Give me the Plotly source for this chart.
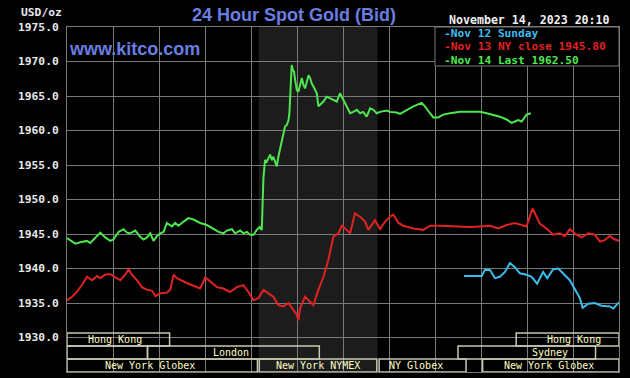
import plotly.graph_objects as go

# ---------------- data (hours of day, NY time; price USD/oz) ----------------
green_h = [0, 0.14, 0.36, 0.58, 0.87, 1.01, 1.16, 1.45, 1.66, 1.88,
           2.02, 2.24, 2.46, 2.61, 2.75, 2.97, 3.18, 3.33, 3.48, 3.62,
           3.76, 3.91, 4.05, 4.2, 4.34, 4.56, 4.70, 4.85, 5.07, 5.28,
           5.50, 5.65, 5.79, 6.08, 6.37, 6.59, 6.80, 6.95, 7.17, 7.31,
           7.53, 7.67, 7.82, 7.96, 8.11, 8.25, 8.38, 8.47, 8.51, 8.54,
           8.61, 8.69, 8.83, 8.91, 8.97, 9.05, 9.12, 9.19, 9.27, 9.34,
           9.41, 9.48, 9.56, 9.63, 9.67, 9.73, 9.77, 9.82, 9.87, 9.92,
           9.99, 10.06, 10.13, 10.21, 10.28, 10.35, 10.43, 10.50, 10.57, 10.64,
           10.71, 10.86, 10.93, 11.0, 11.15, 11.29, 11.44, 11.58, 11.73, 11.87,
           12.02, 12.16, 12.31, 12.45, 12.60, 12.74, 12.88, 13.03, 13.18, 13.32,
           13.47, 13.61, 13.90, 14.04, 14.33, 14.48, 14.77, 15.06, 15.42, 15.56,
           15.78, 15.93, 16.14, 16.36, 16.65, 17.09, 17.52, 17.95, 18.25, 18.53,
           18.82, 19.11, 19.33, 19.47, 19.62, 19.77, 19.98, 20.17]
green_v = [1944.4, 1944.1, 1943.6, 1943.8, 1944.0, 1943.7, 1944.2, 1945.2, 1944.5, 1944.0,
           1944.2, 1945.3, 1945.7, 1945.2, 1945.1, 1945.5, 1944.6, 1944.2, 1944.5, 1945.1,
           1944.0, 1944.7, 1945.1, 1945.3, 1946.6, 1946.1, 1946.6, 1946.2, 1946.8, 1947.3,
           1947.1, 1946.8, 1946.6, 1946.3, 1945.8, 1945.3, 1945.1, 1945.5, 1945.7, 1945.1,
           1945.5, 1945.1, 1945.3, 1944.9, 1944.9, 1945.6, 1946.0, 1945.6, 1949.9, 1953.1,
           1955.7, 1955.5, 1956.5, 1955.7, 1956.2, 1955.3, 1954.8, 1956.2, 1957.4, 1958.6,
           1959.4, 1960.6, 1960.8, 1961.5, 1962.5, 1966.4, 1969.5, 1968.8, 1968.5, 1967.3,
           1965.9, 1965.6, 1966.4, 1967.6, 1966.6, 1966.1, 1967.1, 1968.0, 1967.6, 1966.8,
           1966.4, 1965.4, 1963.5, 1963.7, 1964.2, 1964.9, 1964.7, 1964.4, 1964.2, 1965.4,
           1964.4, 1963.7, 1962.5, 1962.7, 1963.0, 1962.5, 1962.7, 1962.0, 1963.2, 1963.0,
           1962.5, 1962.7, 1962.9, 1962.7, 1962.6, 1962.4, 1963.0, 1963.5, 1964.0, 1963.5,
           1962.5, 1961.9, 1961.9, 1962.3, 1962.5, 1962.7, 1962.7, 1962.7, 1962.5, 1962.3,
           1962.0, 1961.6, 1961.1, 1961.3, 1961.5, 1961.3, 1962.3, 1962.5]

red_h = [0, 0.22, 0.43, 0.65, 0.87, 1.09, 1.30, 1.45, 1.66, 1.88,
         2.10, 2.32, 2.53, 2.68, 2.82, 3.04, 3.26, 3.48, 3.69, 3.84,
         4.05, 4.34, 4.49, 4.63, 4.78, 5.0, 5.21, 5.50, 5.79, 6.01,
         6.23, 6.52, 6.80, 7.09, 7.38, 7.67, 7.89, 8.11, 8.32,
         8.54, 8.76, 8.97, 9.19, 9.41, 9.63, 9.84, 9.99, 10.06, 10.13, 10.35,
         10.57, 10.71, 10.93, 11.15, 11.36, 11.58, 11.80, 11.95, 12.16, 12.31,
         12.52, 12.74, 12.96, 13.10, 13.39, 13.61, 13.83, 14.04,
         14.19, 14.41, 14.62, 15.06, 15.49, 15.78, 16.22, 16.65, 17.09, 17.52, 17.95, 18.39,
         18.75, 19.11, 19.47, 19.77, 19.98, 20.24, 20.42, 20.56, 20.85, 21.14,
         21.43, 21.65, 21.86, 22.15, 22.37, 22.66, 22.95, 23.17, 23.38, 23.60, 23.82, 24.0]
red_v = [1935.4, 1935.9, 1936.6, 1937.6, 1938.8, 1938.3, 1938.9, 1938.6, 1939.1, 1939.2,
         1938.7, 1938.3, 1939.1, 1939.9, 1939.1, 1938.3, 1937.3, 1936.9, 1936.8, 1936.0,
         1936.4, 1936.5, 1936.9, 1939.1, 1938.6, 1938.3, 1937.9, 1937.5, 1937.1, 1938.7,
         1938.1, 1937.3, 1937.1, 1936.6, 1937.3, 1937.6, 1936.6, 1935.4, 1935.7,
         1936.9, 1936.4, 1935.9, 1934.7, 1934.5, 1935.0, 1934.0, 1933.3, 1932.5, 1934.2, 1935.9,
         1935.2, 1934.7, 1936.9, 1938.8, 1941.2, 1944.6, 1945.1, 1946.2, 1945.6, 1945.1,
         1948.0, 1947.5, 1946.8, 1945.6, 1947.0, 1945.7, 1946.8, 1947.5,
         1947.8, 1946.6, 1946.2, 1945.8, 1945.6, 1946.2, 1946.2, 1946.1, 1946.0, 1946.0, 1946.1, 1946.2,
         1945.8, 1946.3, 1946.6, 1946.3, 1946.1, 1948.7, 1947.5, 1946.5, 1945.8, 1944.9,
         1945.1, 1944.7, 1945.7, 1944.9, 1944.5, 1945.1, 1944.9, 1943.9, 1944.1, 1944.7, 1944.2, 1944.0]

cyan_h = [17.26, 18.03, 18.17, 18.39, 18.61, 18.82, 19.04, 19.26, 19.47, 19.69,
          19.98, 20.20, 20.44, 20.70, 20.88, 21.14, 21.36, 21.57, 21.86, 22.15,
          22.30, 22.42, 22.66, 22.95, 23.24, 23.60, 23.75, 24.0]
cyan_v = [1938.9, 1938.9, 1939.8, 1939.8, 1938.6, 1938.8, 1939.5, 1940.8, 1940.2, 1939.3,
          1939.1, 1938.8, 1937.8, 1939.5, 1938.6, 1939.9, 1940.0, 1939.3, 1938.3, 1936.6,
          1935.7, 1934.3, 1934.9, 1935.0, 1934.6, 1934.5, 1934.2, 1935.1]

legend_labels = ["Nov 12 Sunday", "Nov 13 NY close 1945.80", "Nov 14 Last 1962.50"]

y_ticks = [1925, 1930, 1935, 1940, 1945, 1950, 1955, 1960, 1965, 1970, 1975]

# market sessions: name, start hour, end hour, row (1 = top), label centre hour
sess_name = ["Hong Kong", "", "London", "New York Globex", "New York NYMEX",
             "NY Globex", "New York Globex", "Sydney", "Hong Kong"]
sess_start = [0, 0, 3.5, 0, 8.36, 13.57, 18.07, 17.0, 19.53]
sess_end = [4.46, 3.5, 10.97, 8.28, 13.47, 17.35, 24, 22.98, 24]
sess_row = [1, 2, 2, 3, 3, 3, 3, 2, 1]
sess_label_h = [2.1, 0, 7.14, 3.63, 10.9, 15.19, 20.95, 20.98, 22.05]

nymex_open, nymex_close = 8.333, 13.5

# ---------------- styling ----------------
C_GREEN = "#4ee64e"
C_RED = "#e02222"
C_CYAN = "#3cbcec"
C_GRID = "#7a7a7a"
C_BLUE = "#6a7ee2"
MONO = "DejaVu Sans Mono"

fig = go.Figure()

for h, v, c in [(red_h, red_v, C_RED), (cyan_h, cyan_v, C_CYAN), (green_h, green_v, C_GREEN)]:
    fig.add_trace(go.Scatter(x=h, y=v, mode="lines", line=dict(color=c, width=2),
                             showlegend=False, hoverinfo="skip"))

shapes = []
# NYMEX shaded period
shapes.append(dict(type="rect", xref="x", yref="y", x0=nymex_open, x1=nymex_close,
                   y0=1925, y1=1975, fillcolor="#1c1c1c", line=dict(width=0), layer="below"))

# session rows (pixel rows converted into price units: 6.9 px per dollar)
row_y = {1: (1928.77, 1930.65), 2: (1926.88, 1928.77), 3: (1925.0, 1926.88)}
annotations = []
for name, s, e, r, lh in zip(sess_name, sess_start, sess_end, sess_row, sess_label_h):
    y0, y1 = row_y[r]
    shapes.append(dict(type="rect", xref="x", yref="y", x0=s, x1=e, y0=y0, y1=y1,
                       line=dict(color="#c8c8b0", width=1.5), fillcolor="rgba(0,0,0,0)", layer="above"))
    if name:
        annotations.append(dict(x=lh, y=(y0 + y1) / 2, xref="x", yref="y", text=name,
                                showarrow=False, xanchor="center", yanchor="middle",
                                font=dict(family=MONO, size=10, color="#ffffc4")))

# legend box
shapes.append(dict(type="rect", xref="x", yref="y", x0=16, x1=24, y0=1969.35, y1=1975,
                   fillcolor="black", line=dict(color=C_GRID, width=1), layer="above"))
for lab, col, yy in zip(legend_labels, [C_CYAN, C_RED, C_GREEN], [1974.13, 1972.17, 1970.21]):
    annotations.append(dict(x=16.32, y=yy, xref="x", yref="y", text="-" + lab, showarrow=False,
                            xanchor="left", yanchor="middle",
                            font=dict(family=MONO, size=11.2, color=col, weight="bold")))

# titles / texts
annotations += [
    dict(x=0.412, y=1.035, xref="paper", yref="paper", text="24 Hour Spot Gold (Bid)",
         showarrow=False, xanchor="center", yanchor="middle",
         font=dict(family="Liberation Sans", size=18, color=C_BLUE, weight="bold")),
    dict(x=0.1226, y=0.936, xref="paper", yref="paper", text="www.kitco.com",
         showarrow=False, xanchor="center", yanchor="middle",
         font=dict(family="Liberation Sans", size=18, color=C_BLUE, weight="bold")),
    dict(x=0.838, y=1.021, xref="paper", yref="paper", text="November 14, 2023 20:10",
         showarrow=False, xanchor="center", yanchor="middle",
         font=dict(family=MONO, size=11.6, color="#f0f0f0", weight="bold")),
    dict(x=-0.047, y=1.0406, xref="paper", yref="paper", text="USD/oz",
         showarrow=False, xanchor="center", yanchor="middle",
         font=dict(family=MONO, size=11.3, color="#e8e8e8", weight="bold")),
]

fig.update_layout(
    width=630, height=378,
    margin=dict(l=67, r=11, t=27, b=6),
    paper_bgcolor="black", plot_bgcolor="black",
    shapes=shapes, annotations=annotations,
    showlegend=False,
    xaxis=dict(range=[0, 24], dtick=2, tick0=0, showticklabels=False, showgrid=True,
               gridcolor=C_GRID, gridwidth=1, zeroline=False, showline=True, mirror=True,
               linecolor=C_GRID, linewidth=1, ticks=""),
    yaxis=dict(range=[1925, 1975], tickvals=y_ticks, ticktext=[f"{t:.1f}" for t in y_ticks],
               showgrid=True, gridcolor=C_GRID, gridwidth=1, zeroline=False,
               showline=True, mirror=True, linecolor=C_GRID, linewidth=1, ticks="",
               ticklabelstandoff=5,
               tickfont=dict(family=MONO, size=11.3, color="#e8e8e8", weight="bold")),
)

fig.write_html("out.html")
